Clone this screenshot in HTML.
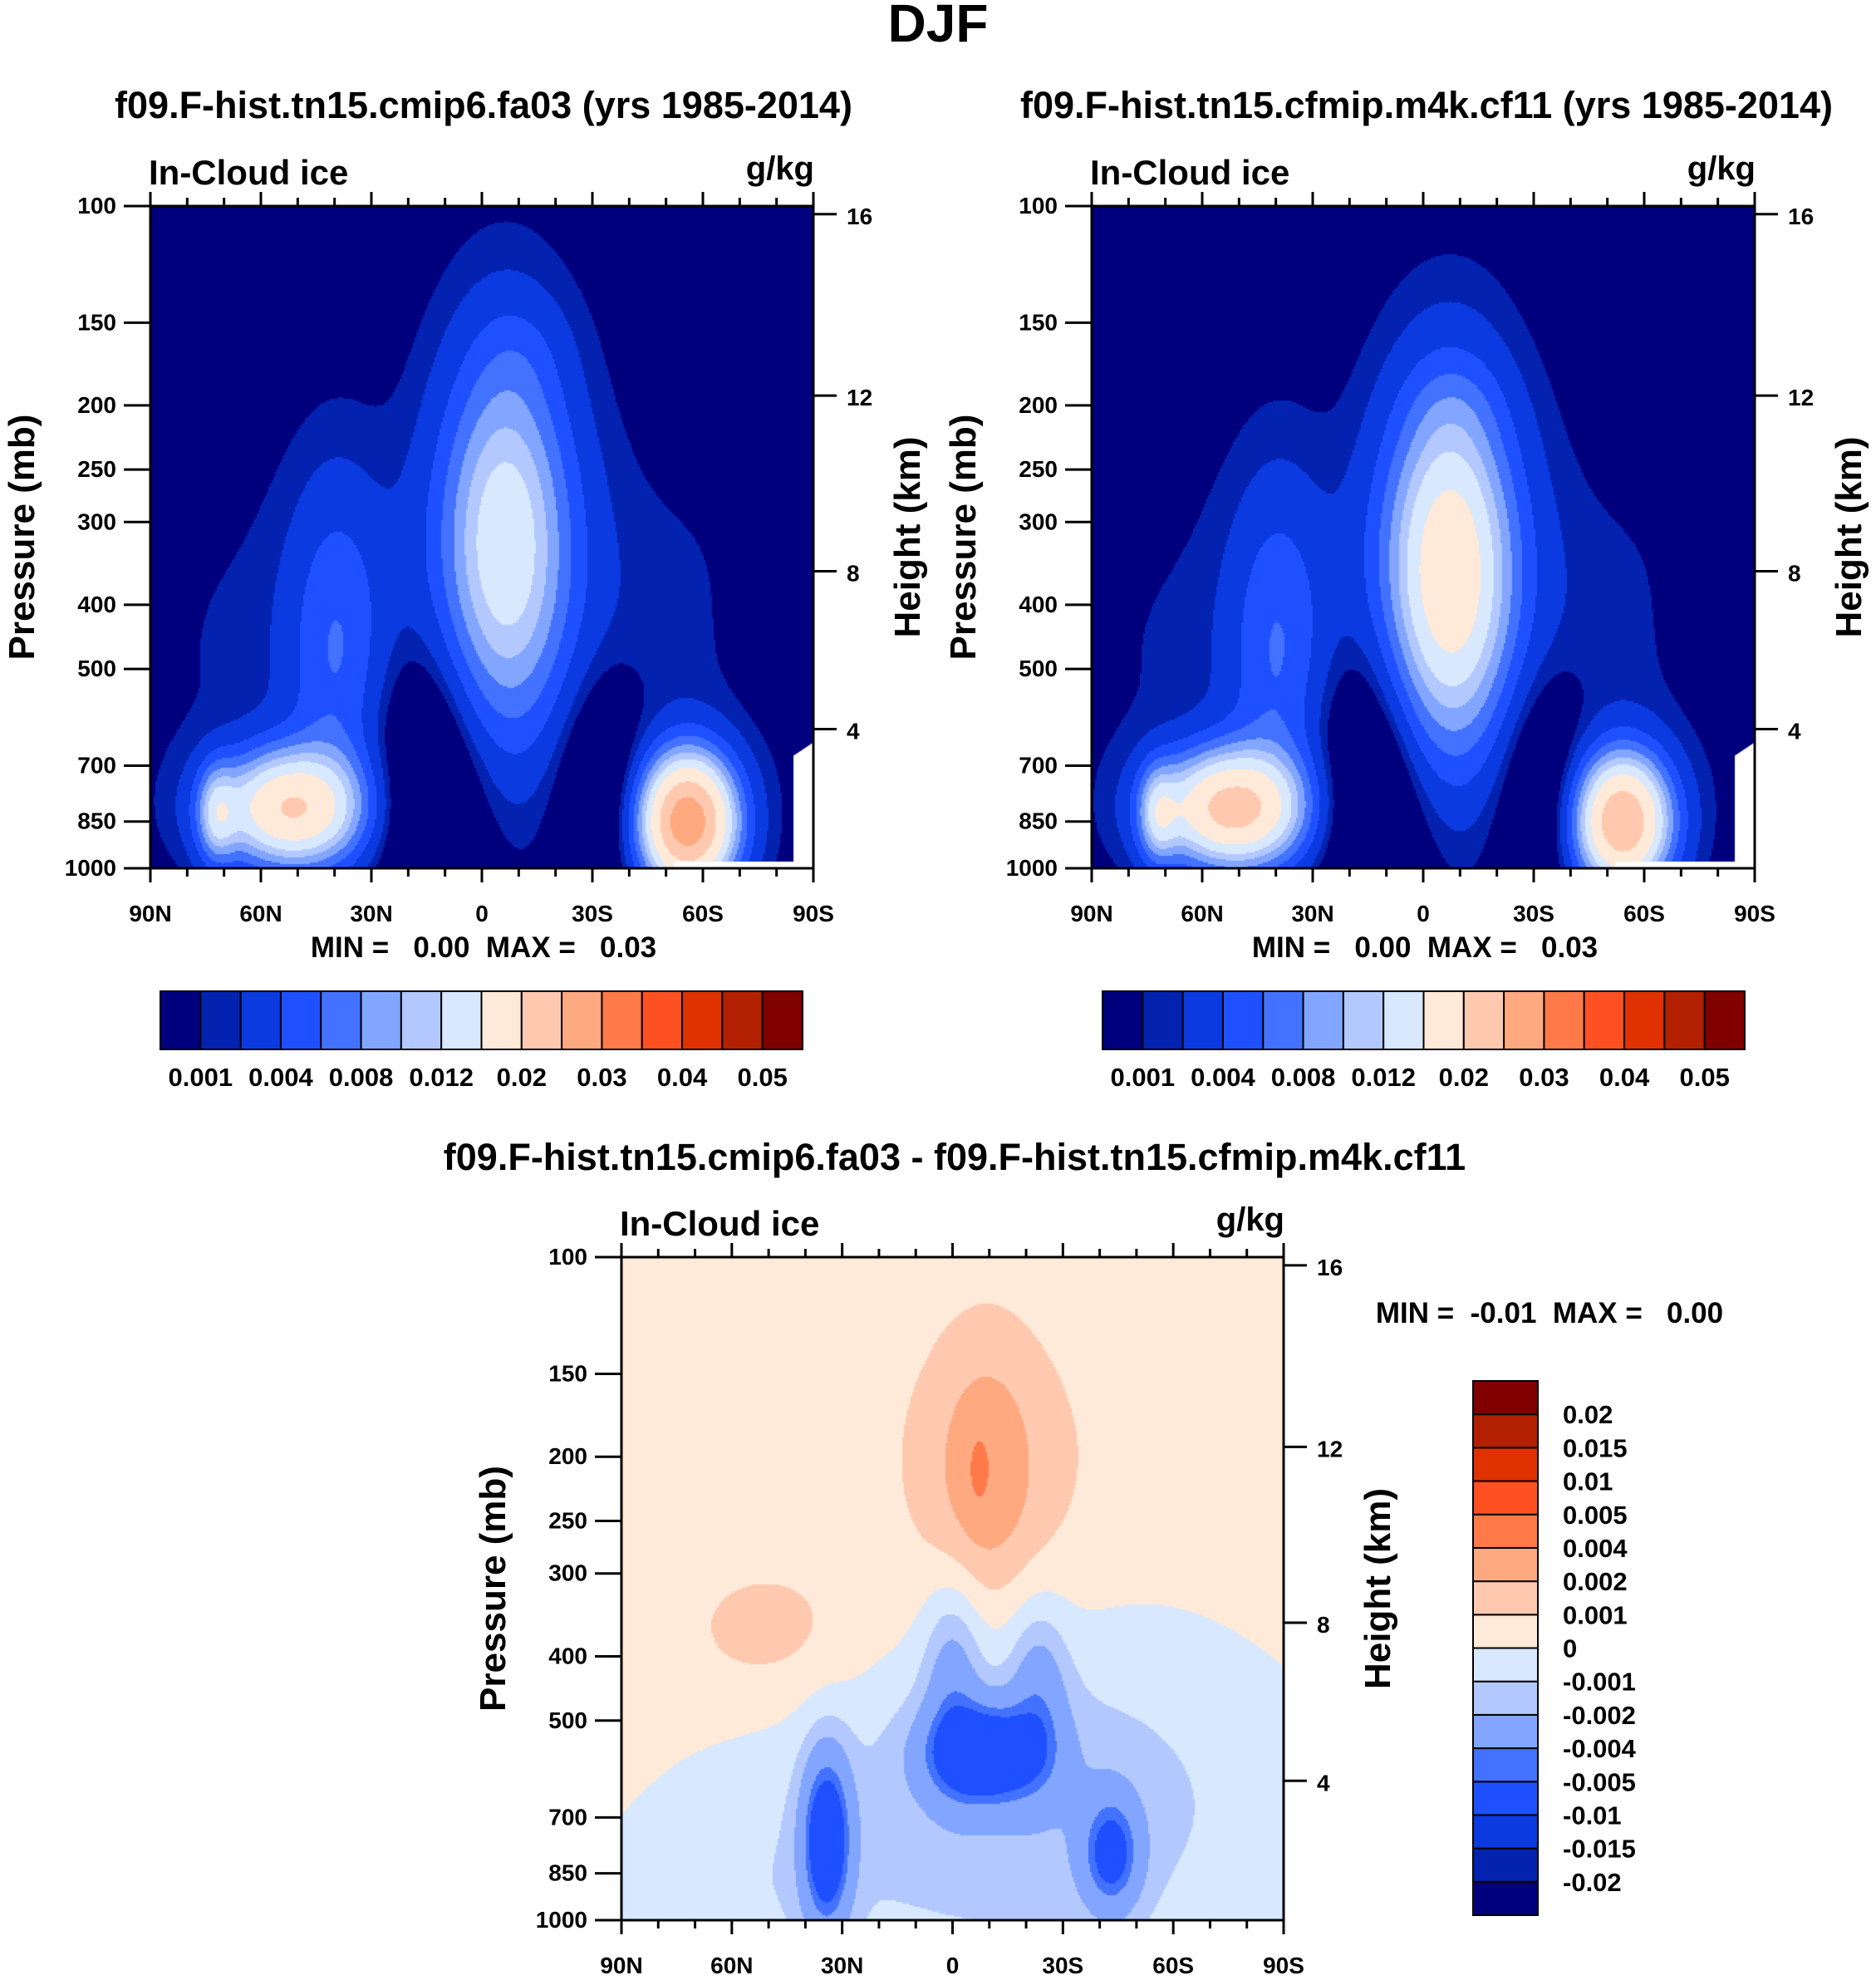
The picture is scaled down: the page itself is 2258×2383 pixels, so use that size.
<!DOCTYPE html>
<html><head><meta charset="utf-8">
<style>
body{margin:0;background:#fff;}
#root{position:relative;width:2258px;height:2383px;background:#fff;overflow:hidden;font-family:"Liberation Sans",Arial,sans-serif;font-weight:bold;}
canvas{position:absolute;}
svg{position:absolute;left:0;top:0;}
text{font-family:"Liberation Sans",Arial,sans-serif;font-weight:bold;fill:#000;white-space:pre;}
</style></head><body>
<div id="root">
<canvas id="c1" width="798" height="797" style="left:181px;top:248px"></canvas>
<canvas id="c2" width="798" height="797" style="left:1314px;top:248px"></canvas>
<canvas id="c3" width="797" height="798" style="left:748px;top:1513px"></canvas>
<svg id="s" width="2258" height="2383"></svg>
</div>
<script>
// ---- data ----
const latTicks = ["90N","60N","30N","0","30S","60S","90S"];
const presTicks = [100,150,200,250,300,400,500,700,850,1000];
const heightTicks = [4,8,12,16];
const absLevels = [0.001,0.002,0.004,0.006,0.008,0.010,0.012,0.015,0.02,0.025,0.03,0.035,0.04,0.045,0.05];
const absLabels = ["0.001","0.004","0.008","0.012","0.02","0.03","0.04","0.05"];
const diffLevels = [-0.02,-0.015,-0.01,-0.005,-0.004,-0.002,-0.001,0,0.001,0.002,0.004,0.005,0.01,0.015,0.02];
const diffLabels = ["-0.02","-0.015","-0.01","-0.005","-0.004","-0.002","-0.001","0","0.001","0.002","0.004","0.005","0.01","0.015","0.02"];
const palette = ["#00007f","#0422b0","#0a3ae0","#1e50ff","#4272ff","#82a6ff","#b2c8ff","#d8e8ff","#ffe9d8","#ffc9b0","#ffa980","#ff7a48","#ff5022","#e03200","#b22000","#800000"];
// field blobs: [lat-fraction, logp-fraction, sx, sy, amplitude]
const field1Bg = 0.0003;
const field1 = [[.535,.5,.065,.19,.0105],[.54,.52,.085,.21,.0025],[.56,.78,.05,.06,.001],[.5,.33,.3,.19,.0019],
 [.21,.09,.075,.06,.019],[.28,.33,.05,.18,.0045],[.1,.08,.02,.05,.008],[.81,.07,.05,.07,.028],
 [.42,.13,.06,.16,-.005],[.68,.12,.05,.13,-.004],[.94,.35,.06,.1,-.0008]];
const field2Bg = 0.0003;
const field2 = [[.54,.45,.065,.18,.0145],[.54,.5,.085,.2,.0025],[.55,.7,.05,.05,.001],[.5,.32,.3,.19,.0019],
 [.21,.09,.075,.06,.021],[.28,.33,.05,.18,.0045],[.1,.08,.02,.05,.008],[.8,.07,.05,.07,.024],
 [.42,.13,.06,.16,-.005],[.68,.12,.05,.13,-.004],[.94,.35,.06,.1,-.0008]];
const field3Bg = 0.0005;
const field3 = [[.62,.17,.28,.2,-.0022],[.15,.03,.15,.12,-.0009],[.31,.12,.025,.09,-.007],[.55,.25,.06,.05,-.007],[.5,.36,.03,.1,-.0025],[.63,.34,.03,.09,-.0025],
 [.74,.1,.03,.06,-.005],[.55,.68,.05,.13,.0015],[.54,.68,.012,.04,.002],[.56,.66,.11,.16,.0011],[.23,.43,.1,.08,.0011]];
const minmax1 = ["0.00","0.03"], minmax2 = ["0.00","0.03"], minmax3 = ["-0.01","0.00"];

// ---- helpers ----
const S = document.getElementById('s');
const NS = "http://www.w3.org/2000/svg";
function mk(tag, attrs, txt){const e=document.createElementNS(NS,tag);for(const k in attrs)e.setAttribute(k,attrs[k]);if(txt!==undefined)e.textContent=txt;S.appendChild(e);return e;}
function hToP(h){ if(h<=11) return 1013.25*Math.pow(1-2.25577e-2*h,5.25588); return 226.32*Math.exp(-(h-11)*1000/6341.6); }
function field(bg,blobs,x,y){let v=bg;for(const b of blobs){const dx=(x-b[0])/b[2],dy=(y-b[1])/b[3];v+=b[4]*Math.exp(-0.5*(dx*dx+dy*dy));}return v;}
function lvl(levels,v){let i=0;while(i<levels.length&&v>=levels[i])i++;return i;}
function drawField(id,bg,blobs,levels,mask){
  const c=document.getElementById(id),g=c.getContext('2d'),W=c.width,H=c.height,st=2;
  for(let px=0;px<W;px+=st)for(let py=0;py<H;py+=st){
    const x=(px+1)/W,y=1-(py+1)/H;
    g.fillStyle=palette[lvl(levels,field(bg,blobs,x,y))];g.fillRect(px,py,st,st);
  }
  if(mask){g.fillStyle="#fff";g.beginPath();g.moveTo(W*.79,H);g.lineTo(W*.79,H*.99);g.lineTo(W*.97,H*.99);g.lineTo(W*.97,H*.83);g.lineTo(W,H*.81);g.lineTo(W,H);g.closePath();g.fill();}
}
function axes(L,T,W,H,name){
  const xs=i=>L+W*i/18, yp=p=>T+H-H*Math.log10(1000/p);
  mk('rect',{x:L,y:T,width:W,height:H,fill:'none',stroke:'#000','stroke-width':3,});
  for(let i=0;i<=18;i++){const maj=i%3===0,len=maj?17:10;
    mk('line',{x1:xs(i),x2:xs(i),y1:T+H,y2:T+H+len,stroke:'#000','stroke-width':3});
    mk('line',{x1:xs(i),x2:xs(i),y1:T,y2:T-len,stroke:'#000','stroke-width':3});}
  latTicks.forEach((t,i)=>mk('text',{x:xs(i*3),y:T+H+64,'font-size':28,'text-anchor':'middle',},t));
  presTicks.forEach(p=>{mk('line',{x1:L-32,x2:L,y1:yp(p),y2:yp(p),stroke:'#000','stroke-width':3});
    mk('text',{x:L-41,y:yp(p)+9,'font-size':28,'text-anchor':'end',},String(p));});
  heightTicks.forEach(h=>{const y=yp(hToP(h));mk('line',{x1:L+W,x2:L+W+28,y1:y,y2:y,stroke:'#000','stroke-width':3});
    mk('text',{x:L+W+40,y:y+12,'font-size':28,},String(h));});
  mk('text',{x:L-2,y:T-26,'font-size':42,},"In-Cloud ice");
  mk('text',{x:L+W+1,y:T-32,'font-size':40,'text-anchor':'end',},"g/kg");
  mk('text',{transform:`translate(${L-140},${T+H/2}) rotate(-90)`,'font-size':44,'text-anchor':'middle',},"Pressure (mb)");
  mk('text',{transform:`translate(${L+W+128},${T+H/2}) rotate(-90)`,'font-size':44,'text-anchor':'middle',},"Height (km)");
}
function hbar(L,T,W,H,name){
  const n=palette.length,bw=W/n;
  palette.forEach((c,i)=>mk('rect',{x:L+i*bw,y:T,width:bw,height:H,fill:c,stroke:'#000','stroke-width':2,}));
  absLabels.forEach((t,j)=>mk('text',{x:L+(2*j+1)*bw,y:T+H+44,'font-size':31,'text-anchor':'middle',},t));
}
function vbar(L,T,W,H,name){
  const n=palette.length,bh=H/n;
  palette.forEach((c,i)=>mk('rect',{x:L,y:T+H-(i+1)*bh,width:W,height:bh,fill:c,stroke:'#000','stroke-width':2,}));
  diffLabels.forEach((t,j)=>mk('text',{x:L+W+30,y:T+H-(j+1)*bh+11,'font-size':31,},t));
}

drawField('c1',field1Bg,field1,absLevels,true);
drawField('c2',field2Bg,field2,absLevels,true);
drawField('c3',field3Bg,field3,diffLevels,false);

mk('text',{x:1129,y:50,'font-size':64,'text-anchor':'middle',},"DJF");
mk('text',{x:582,y:142,'font-size':45,'text-anchor':'middle',},"f09.F-hist.tn15.cmip6.fa03 (yrs 1985-2014)");
mk('text',{x:1717,y:142,'font-size':45,'text-anchor':'middle',},"f09.F-hist.tn15.cfmip.m4k.cf11 (yrs 1985-2014)");
mk('text',{x:1149,y:1408,'font-size':45,'text-anchor':'middle',},"f09.F-hist.tn15.cmip6.fa03 - f09.F-hist.tn15.cfmip.m4k.cf11");
axes(181,248,798,797,'left');
axes(1314,248,798,797,'right');
axes(748,1513,797,798,'diff');
mk('text',{x:582,y:1152,'font-size':35,'text-anchor':'middle',},`MIN =   ${minmax1[0]}  MAX =   ${minmax1[1]}`);
mk('text',{x:1715,y:1152,'font-size':35,'text-anchor':'middle',},`MIN =   ${minmax2[0]}  MAX =   ${minmax2[1]}`);
mk('text',{x:1865,y:1592,'font-size':35,'text-anchor':'middle',},`MIN =  ${minmax3[0]}  MAX =   ${minmax3[1]}`);
hbar(193,1193,773,70,'left-colorbar');
hbar(1327,1193,773,70,'right-colorbar');
vbar(1773,1662,78,643,'diff-colorbar');
</script>
</body></html>
